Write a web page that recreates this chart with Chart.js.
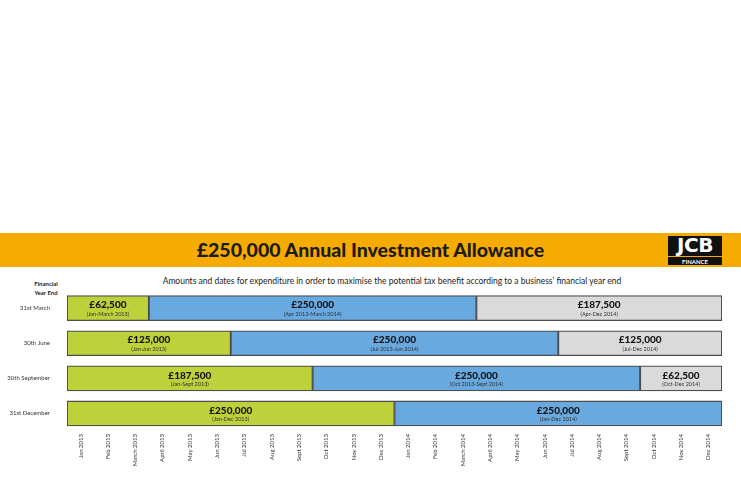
<!DOCTYPE html>
<html>
<head>
<meta charset="utf-8">
<script src="https://cdn.jsdelivr.net/npm/chart.js@4.4.1/dist/chart.umd.min.js"></script>
<style>
  html, body { margin: 0; padding: 0; background: #fff; }
  body { width: 741px; height: 486px; position: relative; overflow: hidden; font-family: Lato, "Open Sans", sans-serif; }
  #banner { position: absolute; left: 0; top: 233px; width: 741px; height: 34px; background: #f6ab00; }
  #title { position: absolute; left: 0; width: 741px; top: 5px; text-align: center; font-weight: 900; font-size: 19.5px; color: #1c1c1c; }
  #logo { position: absolute; left: 668px; top: 3px; width: 54px; height: 29px; background: #111; }
  #logo .jcb { position: absolute; left: 0; top: -3px; width: 54px; text-align: center; color: #fff; font-weight: 900; font-size: 20px; letter-spacing: -0.5px; font-family: "DejaVu Sans", sans-serif; }
  #logo .fin { position: absolute; left: 0; top: 20px; width: 54px; height: 9px; border-top: 1px solid #f6ab00; text-align: center; color: #fff; font-size: 6px; line-height: 9px; font-weight: bold; }
  #subtitle { position: absolute; left: 42px; width: 700px; top: 276px; text-align: center; font-size: 8.5px; color: #222; }
  #fye { position: absolute; left: 26px; width: 40px; top: 279px; text-align: center; font-size: 6px; font-weight: bold; line-height: 9px; color: #222; }
  #wrap { position: absolute; left: 0; top: 278px; width: 741px; height: 208px; }
</style>
</head>
<body>
<div id="banner">
  <div id="title">£250,000 Annual Investment Allowance</div>
  <div id="logo"><div class="jcb">JCB</div><div class="fin">FINANCE</div></div>
</div>
<div id="subtitle">Amounts and dates for expenditure in order to maximise the potential tax benefit according to a business’ financial year end</div>
<div id="fye">Financial<br>Year End</div>
<div id="wrap"><canvas id="chart"></canvas></div>
<script>
const yearEnds = ["31st March", "30th June", "30th September", "31st December"];

const monthLabels = [
  "Jan 2013", "Feb 2013", "March 2013", "April 2013", "May 2013", "Jun 2013",
  "Jul 2013", "Aug 2013", "Sept 2013", "Oct 2013", "Nov 2013", "Dec 2013",
  "Jan 2014", "Feb 2014", "March 2014", "April 2014", "May 2014", "Jun 2014",
  "Jul 2014", "Aug 2014", "Sept 2014", "Oct 2014", "Nov 2014", "Dec 2014"
];

// periods in months from Jan 2013 (start, end)
const firstPeriod = [[0, 3], [0, 6], [0, 9], [0, 12]];
const secondPeriod = [[3, 15], [6, 18], [9, 21], [12, 24]];
const thirdPeriod = [[15, 24], [18, 24], [21, 24], null];

const firstAmounts = ["£62,500", "£125,000", "£187,500", "£250,000"];
const secondAmounts = ["£250,000", "£250,000", "£250,000", "£250,000"];
const thirdAmounts = ["£187,500", "£125,000", "£62,500", null];

const firstRanges = ["(Jan-March 2013)", "(Jan-Jun 2013)", "(Jan-Sept 2013)", "(Jan-Dec 2013)"];
const secondRanges = ["(Apr 2013-March 2014)", "(Jul 2013-Jun 2014)", "(Oct 2013-Sept 2014)", "(Jan-Dec 2014)"];
const thirdRanges = ["(Apr-Dec 2014)", "(Jul-Dec 2014)", "(Oct-Dec 2014)", null];

const amounts = [firstAmounts, secondAmounts, thirdAmounts];
const ranges = [firstRanges, secondRanges, thirdRanges];

// draw the amount + date range in the middle of each bar
const barLabels = {
  id: "barLabels",
  afterDatasetsDraw(chart) {
    const ctx = chart.ctx;
    ctx.save();
    ctx.textAlign = "center";
    ctx.textBaseline = "middle";
    chart.data.datasets.forEach((ds, di) => {
      const meta = chart.getDatasetMeta(di);
      meta.data.forEach((bar, i) => {
        if (!ds.data[i]) return;
        const cx = (bar.x + bar.base) / 2;
        ctx.fillStyle = "#141414";
        ctx.font = "900 10px Lato";
        ctx.fillText(amounts[di][i], cx, bar.y - 3);
        ctx.fillStyle = "#333";
        ctx.font = "5.5px Lato";
        ctx.fillText(ranges[di][i], cx, bar.y + 6);
      });
    });
    ctx.restore();
  },
};

const barStyle = {
  borderColor: "#4d4d4d",
  borderWidth: 1.3,
  borderSkipped: false,
  barThickness: 25,
};

const ctx = document.getElementById("chart").getContext("2d");

new Chart(ctx, {
  type: "bar",
  data: {
    labels: yearEnds,
    datasets: [
      { data: firstPeriod, backgroundColor: "#bdd13b", ...barStyle },
      { data: secondPeriod, backgroundColor: "#68a9df", ...barStyle },
      { data: thirdPeriod, backgroundColor: "#dadada", ...barStyle },
    ],
  },
  options: {
    indexAxis: "y",
    responsive: true,
    maintainAspectRatio: false,
    animation: false,
    layout: { padding: { top: 4, right: 19, left: 0, bottom: 0 } },
    datasets: { bar: { grouped: false } },
    plugins: {
      legend: { display: false },
      tooltip: { enabled: false },
    },
    scales: {
      x: {
        type: "linear",
        min: 0,
        max: 24,
        grid: { display: false },
        border: { display: false },
        afterBuildTicks: (scale) => {
          scale.ticks = monthLabels.map((m, i) => ({ value: i + 0.5 }));
        },
        afterFit: (scale) => {
          scale.height = 55;
        },
        ticks: {
          autoSkip: false,
          maxRotation: 90,
          minRotation: 90,
          padding: -5,
          color: "#333",
          font: { family: "Lato", size: 6 },
          callback: (value, index) => monthLabels[index],
        },
      },
      y: {
        type: "category",
        grid: { display: false },
        border: { display: false },
        afterFit: (scale) => {
          scale.width = 67;
        },
        ticks: {
          padding: 9,
          color: "#333",
          font: { family: "Lato", size: 6 },
        },
      },
    },
  },
  plugins: [barLabels],
});
</script>
</body>
</html>
